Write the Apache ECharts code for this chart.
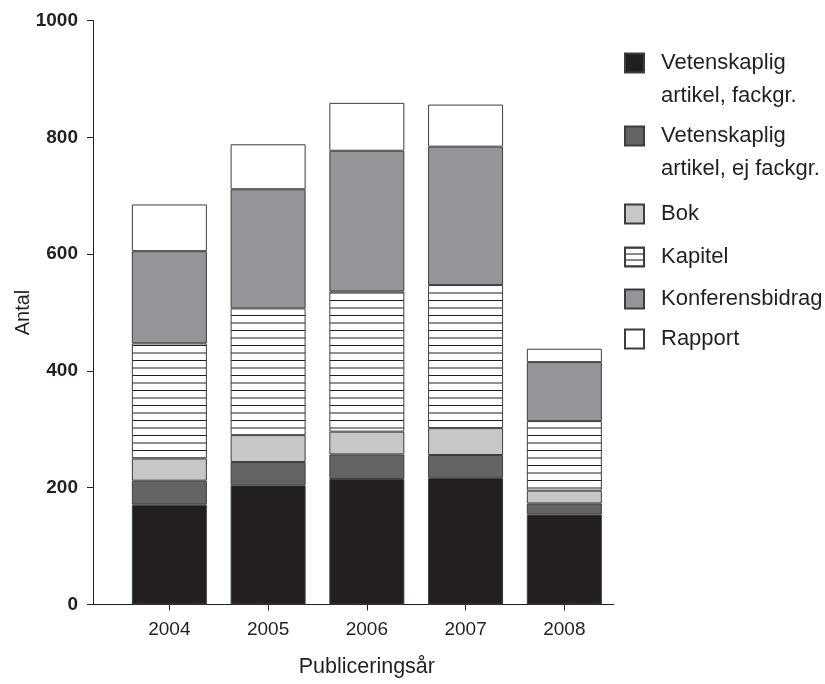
<!DOCTYPE html>
<html>
<head>
<meta charset="utf-8">
<script src="https://cdn.jsdelivr.net/npm/echarts@6/dist/echarts.min.js"></script>
<style>
html, body { margin: 0; padding: 0; background: #fff; }
#chart { width: 825px; height: 684px; }
</style>
</head>
<body>
<div id="chart"></div>
<script>
// data
var years = ['2004', '2005', '2006', '2007', '2008'];
var seriesNames = ['Vetenskaplig\nartikel, fackgr.', 'Vetenskaplig\nartikel, ej fackgr.', 'Bok', 'Kapitel', 'Konferensbidrag', 'Rapport'];
var fackgr = [171, 204, 215, 217, 154];
var ejFackgr = [41, 40, 42, 39, 19];
var bok = [38, 46, 39, 46, 22];
var kapitel = [197, 217, 240, 245, 119];
var konferens = [158, 204, 241, 237, 101];
var rapport = [80, 77, 82, 72, 23];
var yMax = 1000;
var yStep = 200;

var FONT = '"Liberation Sans", Arial, sans-serif';
var INK = '#231f20';

// horizontal stripes for "Kapitel"
function stripes(h, step) {
    var c = document.createElement('canvas');
    c.width = 8;
    c.height = h;
    var ctx = c.getContext('2d');
    ctx.fillStyle = '#fff';
    ctx.fillRect(0, 0, 8, h);
    ctx.fillStyle = INK;
    for (var y = 0; y < h; y += step) {
        ctx.fillRect(0, y, 8, 1);
    }
    return { image: c, repeat: 'repeat' };
}
var barStripes = stripes(15, 7.5);
var iconStripes = stripes(6, 6);

var fills = [INK, '#636466', '#c6c7c9', barStripes, '#939598', '#ffffff'];
var values = [fackgr, ejFackgr, bok, kapitel, konferens, rapport];

var myChart = echarts.init(document.getElementById('chart'));

var series = seriesNames.map(function (name, i) {
    return {
        name: name,
        type: 'bar',
        stack: 'total',
        xAxisIndex: 0,
        yAxisIndex: 0,
        barWidth: 75,
        data: values[i],
        itemStyle: { color: fills[i], borderColor: '#3d3d3f', borderWidth: 1 },
        emphasis: { disabled: true }
    };
});

// one legend per entry so two-line names can keep the square on their first line
var legendTops = [13.5, 86.5, 197.5, 240.5, 282.5, 322.5];
var legends = seriesNames.map(function (name, i) {
    var item = { name: name };
    if (i === 3) {
        item.itemStyle = { color: iconStripes };
    }
    return {
        left: 624,
        top: legendTops[i],
        orient: 'vertical',
        padding: 0,
        itemWidth: 19,
        itemHeight: 19,
        selectedMode: false,
        icon: 'rect',
        data: [item],
        formatter: function (n) {
            return n.indexOf('\n') >= 0 ? '\n' + n : n;
        },
        textStyle: { fontFamily: FONT, fontSize: 22, lineHeight: 33, color: INK, padding: [0, 0, 0, 12] }
    };
});

var option = {
    animation: false,
    backgroundColor: '#fff',
    textStyle: { fontFamily: FONT },
    legend: legends,
    grid: [
        { left: 120, right: 211.3, top: 20.5, bottom: 79.5, outerBoundsMode: 'none' },
        { left: 93, right: 211.3, top: 20.5, bottom: 79.5, outerBoundsMode: 'none' }
    ],
    xAxis: [
        {
            type: 'category',
            gridIndex: 0,
            data: years,
            axisLine: { show: true, lineStyle: { color: INK, width: 1 } },
            axisTick: { show: true, alignWithLabel: true, length: 6, lineStyle: { color: INK } },
            axisLabel: { fontSize: 19, color: INK, margin: 16 },
            name: 'Publiceringsår',
            nameLocation: 'middle',
            nameGap: 52,
            nameMoveOverlap: false,
            nameTextStyle: { fontSize: 21.5, color: INK }
        },
        {
            type: 'value',
            gridIndex: 1,
            min: 0,
            max: 1,
            axisLine: { show: true, lineStyle: { color: INK, width: 1 } },
            axisTick: { show: false },
            axisLabel: { show: false },
            splitLine: { show: false }
        }
    ],
    yAxis: [
        {
            type: 'value',
            gridIndex: 0,
            min: 0,
            max: yMax,
            interval: yStep,
            show: false
        },
        {
            type: 'value',
            gridIndex: 1,
            min: 0,
            max: yMax,
            interval: yStep,
            axisLine: { show: true, lineStyle: { color: INK, width: 1 } },
            axisTick: { show: true, length: 6, lineStyle: { color: INK } },
            axisLabel: {
                fontSize: 19, fontWeight: 'bold', color: INK, margin: 15,
                formatter: function (v) { return String(v); }
            },
            splitLine: { show: false },
            name: 'Antal',
            nameLocation: 'middle',
            nameGap: 60,
            nameMoveOverlap: false,
            nameTextStyle: { fontSize: 20, color: INK }
        }
    ],
    series: series
};

myChart.setOption(option);
</script>
</body>
</html>
